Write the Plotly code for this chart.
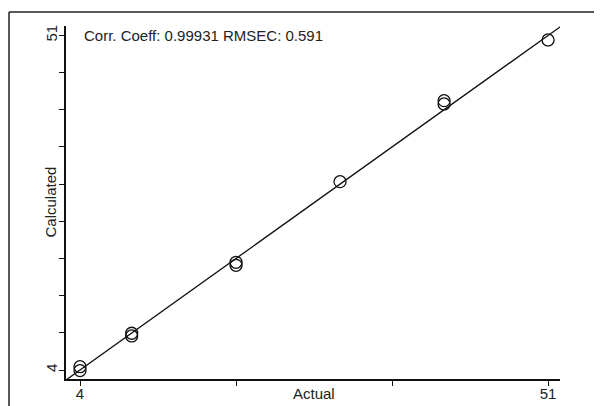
import plotly.graph_objects as go

# Data
actual = [4.0, 4.0, 9.19, 9.19, 19.67, 19.67, 30.11, 40.56, 40.56, 51.0]
calculated = [4.46, 3.92, 9.16, 8.78, 19.13, 18.71, 30.46, 41.84, 41.38, 50.37]
fit_x = [2.594, 52.31]
fit_y = [2.594, 52.31]
x_tickvals = [4, 4 + 47 / 3, 4 + 2 * 47 / 3, 51]
x_ticktext = ["4", "", "", "51"]
y_tickvals = [4 + k * 47 / 9 for k in range(10)]
y_ticktext = ["4"] + [""] * 8 + ["51"]
stats_text = "Corr. Coeff: 0.99931 RMSEC: 0.591"

FONT = "Liberation Sans, Arial, sans-serif"
FS = 15

# page body has an 8px default margin; figure is sized/offset to compensate
OFF = 8
W, H = 602 - OFF, 406 - OFF
L, R, T, B = 66 - OFF, 42, 26 - OFF, 27
PW, PH = W - L - R, H - T - B


def px_x(x):  # page x -> paper fraction
    return (x - OFF - L) / PW


def px_y(y):  # page y -> paper fraction
    return (H - B - (y - OFF)) / PH


fig = go.Figure()
fig.add_trace(go.Scatter(x=fit_x, y=fit_y, mode="lines",
                         line=dict(color="#111111", width=1.3),
                         hoverinfo="skip", showlegend=False))
fig.add_trace(go.Scatter(x=actual, y=calculated, mode="markers",
                         marker=dict(symbol="circle-open", size=12,
                                     color="#111111", line=dict(width=1.3)),
                         showlegend=False))

fig.update_layout(
    width=W, height=H,
    margin=dict(l=L, r=R, t=T, b=B),
    paper_bgcolor="white", plot_bgcolor="white",
    font=dict(family=FONT, size=FS, color="#222222"),
    xaxis=dict(range=[2.594, 52.2], showgrid=False, zeroline=False,
               showline=True, linecolor="#111111", linewidth=1.5,
               ticks="outside", ticklen=5, tickcolor="#111111", tickwidth=1.3,
               tickvals=x_tickvals, ticktext=x_ticktext, tickfont=dict(size=FS),
               ticklabelstandoff=-5, automargin=False),
    yaxis=dict(range=[2.735, 52.33], showgrid=False, zeroline=False,
               showline=True, linecolor="#111111", linewidth=1.5,
               ticks="outside", ticklen=5, tickcolor="#111111", tickwidth=1.3,
               tickvals=y_tickvals, ticktext=y_ticktext, tickangle=-90,
               tickfont=dict(size=FS), ticklabelstandoff=-4, automargin=False),
    annotations=[
        dict(text=stats_text, xref="paper", yref="paper",
             x=px_x(82), y=px_y(36), xanchor="left",
             yanchor="middle", showarrow=False, font=dict(size=FS)),
        dict(text="Actual", xref="paper", yref="paper",
             x=px_x(314), y=px_y(393), xanchor="center",
             yanchor="middle", showarrow=False, font=dict(size=FS)),
        dict(text="Calculated", xref="paper", yref="paper",
             x=px_x(50), y=px_y(202.5), xanchor="center",
             yanchor="middle", textangle=-90, showarrow=False,
             font=dict(size=FS)),
    ],
    shapes=[
        dict(type="line", xref="paper", yref="paper",
             x0=px_x(9), x1=px_x(9), y0=px_y(12), y1=px_y(420),
             line=dict(color="#222222", width=1.5), layer="above"),
        dict(type="line", xref="paper", yref="paper",
             x0=px_x(9), x1=px_x(620), y0=px_y(12), y1=px_y(12),
             line=dict(color="#222222", width=1.5), layer="above"),
    ],
)

fig.write_html("out.html")
